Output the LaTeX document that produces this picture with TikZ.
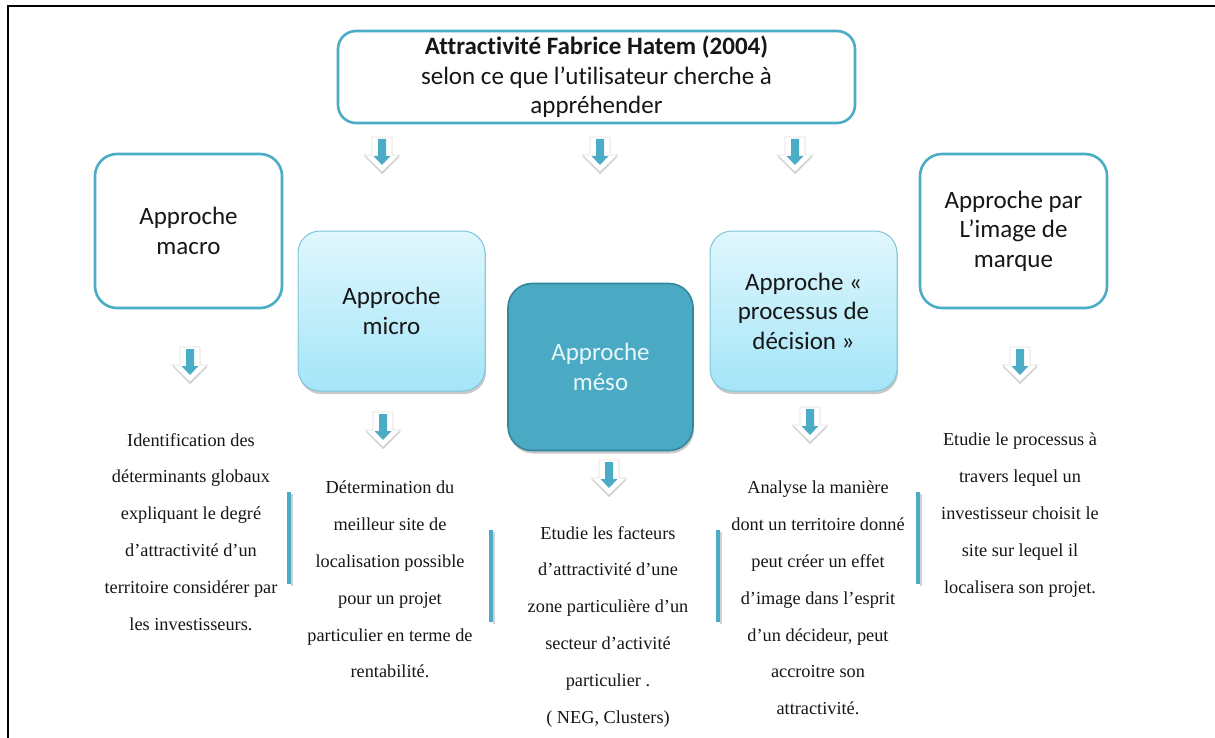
\documentclass[tikz,border=0pt]{standalone}
\usepackage{fontspec}
\setmainfont{Liberation Serif}
\newfontfamily\boxfont[Ligatures=CommonOff]{Carlito}
\newfontfamily\txtfont{Liberation Serif}
\usetikzlibrary{shadows}
\definecolor{tealc}{RGB}{75,172,198}
\definecolor{mesofill}{RGB}{74,170,196}
\definecolor{mesodraw}{RGB}{52,134,156}
\definecolor{lighttop}{RGB}{224,247,253}
\definecolor{lightbot}{RGB}{164,229,248}
\definecolor{lightdraw}{RGB}{128,198,218}
\definecolor{mesotext}{RGB}{232,246,250}
\definecolor{inkc}{RGB}{22,22,22}
\begin{document}
\begin{tikzpicture}[x=1pt,y=-1pt,
  boxtext/.style={align=center, inner sep=0pt, font=\boxfont\fontsize{25}{29.5}\selectfont},
  whitebox/.style={boxtext, draw=tealc, line width=2.6pt, fill=white, rounded corners=22pt, text=inkc},
  lightbox/.style={boxtext, draw=lightdraw, line width=1pt, top color=lighttop, bottom color=lightbot,
     rounded corners=22pt, text=inkc,
     drop shadow={shadow xshift=1pt, shadow yshift=-3pt, opacity=0.35, fill=black!60}},
  mesobox/.style={boxtext, draw=mesodraw, line width=1.6pt, fill=mesofill, rounded corners=24pt, text=mesotext,
     drop shadow={shadow xshift=1pt, shadow yshift=-3pt, opacity=0.35, fill=black!60}},
  desc/.style={anchor=north, align=center, inner sep=0pt, text=inkc, font=\txtfont\fontsize{18.3}{36.8}\selectfont},
  bar/.style={draw=tealc, line width=4pt},
  barshadow/.style={draw=black!18, line width=2pt},
  darrow/.pic={
    \fill[black!22] (-10,1.5) -- (10,1.5) -- (10,19.5) -- (17.5,19.5) -- (0,37) -- (-17.5,19.5) -- (-10,19.5) -- cycle;
    \fill[white, draw=black!12, line width=0.8pt] (-10,0) -- (10,0) -- (10,18) -- (17.5,18) -- (0,35) -- (-17.5,18) -- (-10,18) -- cycle;
    \fill[tealc] (-4,2) -- (4,2) -- (4,19) -- (8.5,19) -- (0,28) -- (-8.5,19) -- (-4,19) -- cycle;
  }
]
\useasboundingbox (0,0) rectangle (1215,738);
\fill[white] (0,0) rectangle (1215,738);
\draw[line width=2pt] (1215,6) -- (8,6) -- (8,738);

% boxes
\node[whitebox, minimum width=517pt, minimum height=92pt, rounded corners=18pt] (top) at (596.5,77)
  {\textbf{Attractivité Fabrice Hatem (2004)}\\selon ce que l’utilisateur cherche à\\appréhender};
\node[whitebox, minimum width=187pt, minimum height=154pt] (macro) at (188.5,231) {Approche\\macro};
\node[lightbox, minimum width=187pt, minimum height=160pt] (micro) at (391.5,311) {Approche\\micro};
\node[mesobox, minimum width=185pt, minimum height=167pt] (meso) at (600.5,367) {Approche\\méso};
\node[lightbox, minimum width=187pt, minimum height=160pt] (proc) at (803.5,311) {Approche «\\processus de\\décision »};
\node[whitebox, minimum width=187pt, minimum height=154pt] (image) at (1013.5,231) {Approche par\\L’image de\\marque};

% arrows
\pic (a1) at (382,137) {darrow};
\pic (a2) at (600,137) {darrow};
\pic (a3) at (795,137) {darrow};
\pic (a4) at (190,347) {darrow};
\pic (a5) at (1020,347) {darrow};
\pic (a6) at (383,412) {darrow};
\pic (a7) at (609,460) {darrow};
\pic (a8) at (810,407) {darrow};

% descriptions
\node[desc] (dmacro) at (191,433) {Identification des\\déterminants globaux\\expliquant le degré\\d’attractivité d’un\\territoire considérer par\\les investisseurs.};
\node[desc] (dmicro) at (390,481) {Détermination du\\meilleur site de\\localisation possible\\pour un projet\\particulier en terme de\\rentabilité.};
\node[desc] (dmeso) at (608,526) {Etudie les facteurs\\d’attractivité d’une\\zone particulière d’un\\secteur d’activité\\particulier .\\( NEG, Clusters)};
\node[desc] (dproc) at (818,481) {Analyse la manière\\dont un territoire donné\\peut créer un effet\\d’image dans l’esprit\\d’un décideur, peut\\accroitre son\\attractivité.};
\node[desc] (dimage) at (1020,433) {Etudie le processus à\\travers lequel un\\investisseur choisit le\\site sur lequel il\\localisera son projet.};

% vertical bars
\draw[barshadow] (291.5,494) -- (291.5,586);
\draw[bar] (289,492) -- (289,584);
\draw[barshadow] (493.5,532) -- (493.5,624);
\draw[bar] (491,530) -- (491,622);
\draw[barshadow] (720.5,532) -- (720.5,624);
\draw[bar] (718,530) -- (718,622);
\draw[barshadow] (920.5,494) -- (920.5,586);
\draw[bar] (918,492) -- (918,584);
\end{tikzpicture}
\end{document}
